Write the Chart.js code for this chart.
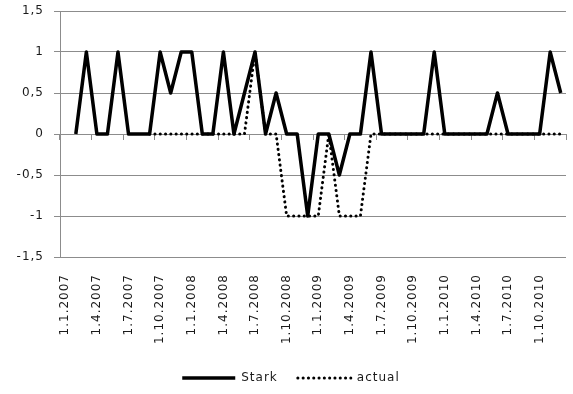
<!DOCTYPE html>
<html>
<head>
<meta charset="utf-8">
<script src="https://cdn.jsdelivr.net/npm/chart.js@4/dist/chart.umd.min.js"></script>
<style>
  html, body { margin: 0; padding: 0; background: #fff; }
  #wrap { width: 573px; height: 394px; position: relative; }
</style>
</head>
<body>
<div id="wrap"><canvas id="c"></canvas></div>
<script>
// Monthly categories, Jan 2007 – Dec 2010
const months = [
  '1.1.2007','1.2.2007','1.3.2007','1.4.2007','1.5.2007','1.6.2007','1.7.2007','1.8.2007','1.9.2007','1.10.2007','1.11.2007','1.12.2007',
  '1.1.2008','1.2.2008','1.3.2008','1.4.2008','1.5.2008','1.6.2008','1.7.2008','1.8.2008','1.9.2008','1.10.2008','1.11.2008','1.12.2008',
  '1.1.2009','1.2.2009','1.3.2009','1.4.2009','1.5.2009','1.6.2009','1.7.2009','1.8.2009','1.9.2009','1.10.2009','1.11.2009','1.12.2009',
  '1.1.2010','1.2.2010','1.3.2010','1.4.2010','1.5.2010','1.6.2010','1.7.2010','1.8.2010','1.9.2010','1.10.2010','1.11.2010','1.12.2010'
];

// Labels shown on the axis (quarterly)
const tickLabels = [
  '1.1.2007','1.4.2007','1.7.2007','1.10.2007',
  '1.1.2008','1.4.2008','1.7.2008','1.10.2008',
  '1.1.2009','1.4.2009','1.7.2009','1.10.2009',
  '1.1.2010','1.4.2010','1.7.2010','1.10.2010'
];

const stark = [
  null, 0, 1, 0, 0, 1, 0, 0, 0, 1, 0.5, 1,
  1, 0, 0, 1, 0, 0.5, 1, 0, 0.5, 0, 0, -1,
  0, 0, -0.5, 0, 0, 1, 0, 0, 0, 0, 0, 1,
  0, 0, 0, 0, 0, 0.5, 0, 0, 0, 0, 1, 0.5
];

const actual = [
  null, null, null, null, null, null, null, null, 0, 0, 0, 0,
  0, 0, 0, 0, 0, 0, 1, 0, 0, -1, -1, -1,
  -1, 0, -1, -1, -1, 0, 0, 0, 0, 0, 0, 0,
  0, 0, 0, 0, 0, 0, 0, 0, 0, 0, 0, 0
];

const yTicks = [-1.5, -1, -0.5, 0, 0.5, 1, 1.5];

const GRID = '#8c8c8c';
const TEXT = '#1a1a1a';
const FONT = { family: 'DejaVu Sans', size: 12 };

// Slightly loosened letter spacing for all canvas text
const spacing = {
  id: 'spacing',
  beforeUpdate(chart) { chart.ctx.letterSpacing = '1px'; },
  beforeDraw(chart) { chart.ctx.letterSpacing = '1px'; }
};

// Nudge the legend row a little to the right of the canvas centre
const legendShift = {
  id: 'legendShift',
  afterLayout(chart) {
    if (chart.legend) { chart.legend.left += 16; }
  }
};

new Chart(document.getElementById('c'), {
  type: 'line',
  data: {
    labels: months,
    datasets: [
      {
        label: 'Stark',
        data: stark,
        borderColor: '#000',
        backgroundColor: '#000',
        borderWidth: 3.5,
        borderJoinStyle: 'round',
        pointRadius: 0,
        tension: 0,
        fill: false
      },
      {
        label: 'actual',
        data: actual,
        borderColor: '#000',
        backgroundColor: '#000',
        borderWidth: 3,
        borderDash: [0.1, 5.2],
        borderCapStyle: 'round',
        pointRadius: 0,
        tension: 0,
        fill: false
      }
    ]
  },
  plugins: [spacing, legendShift],
  options: {
    responsive: true,
    maintainAspectRatio: false,
    animation: false,
    events: [],
    layout: { padding: { top: 11, right: 7, left: 0, bottom: 0 } },
    scales: {
      x: {
        type: 'category',
        position: 'bottom',
        offset: true,
        grid: { display: false },
        border: { display: false },
        ticks: {
          autoSkip: false,
          minRotation: 90,
          maxRotation: 90,
          padding: 9,
          color: TEXT,
          font: FONT,
          callback: (v, i) => tickLabels.includes(months[i]) ? months[i] : ''
        },
        afterFit: s => { s.height = 95; s.paddingLeft = 0; s.paddingRight = 0; }
      },
      x0: {
        type: 'category',
        position: { y: 0 },
        offset: true,
        grid: {
          display: true,
          offset: true,
          drawOnChartArea: false,
          drawTicks: true,
          tickLength: 5,
          lineWidth: 1,
          color: ctx => (ctx.type !== 'tick' || ctx.index % 3 === 0) ? GRID : 'rgba(0,0,0,0)'
        },
        border: { display: true, color: GRID, width: 1 },
        ticks: { display: false, autoSkip: false },
        afterFit: s => { s.paddingLeft = 0; s.paddingRight = 0; }
      },
      y: {
        min: -1.5,
        max: 1.5,
        afterBuildTicks: s => { s.ticks = yTicks.map(v => ({ value: v })); },
        grid: { color: GRID, tickLength: 6, lineWidth: 1 },
        border: { display: true, color: GRID, width: 1 },
        ticks: {
          padding: 10,
          color: TEXT,
          font: FONT,
          callback: v => String(v).replace('.', ',')
        },
        afterFit: s => { s.width = 60; s.paddingTop = 0; s.paddingBottom = 0; }
      }
    },
    plugins: {
      legend: {
        position: 'bottom',
        labels: {
          usePointStyle: true,
          pointStyle: 'line',
          pointStyleWidth: 53,
          color: TEXT,
          font: FONT,
          padding: 20,
          generateLabels: chart => {
            const items = Chart.defaults.plugins.legend.labels.generateLabels(chart);
            return items.map(item => {
              const ds = chart.data.datasets[item.datasetIndex];
              return Object.assign(item, {
                lineWidth: ds.borderWidth,
                lineDash: ds.borderDash || [],
                lineCap: ds.borderCapStyle || 'butt',
                strokeStyle: ds.borderColor,
                pointStyle: 'line'
              });
            });
          }
        }
      },
      tooltip: { enabled: false }
    }
  }
});
</script>
</body>
</html>
